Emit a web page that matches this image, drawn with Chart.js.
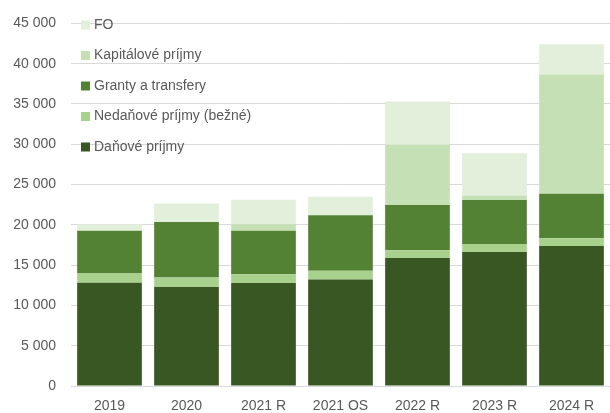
<!DOCTYPE html>
<html>
<head>
<meta charset="utf-8">
<script src="https://cdn.jsdelivr.net/npm/chart.js@4"></script>
<style>
  html, body { margin: 0; padding: 0; background: #fff; }
  #wrap { width: 610px; height: 413px; }
</style>
</head>
<body>
<div id="wrap"><canvas id="chart" width="610" height="413"></canvas></div>
<script>
// Dáta
const categories = ["2019", "2020", "2021 R", "2021 OS", "2022 R", "2023 R", "2024 R"];
const danove     = [12800, 12300, 12770, 13230, 15890, 16630, 17370];
const nedanove   = [1160, 1150, 1110, 1060, 950, 980, 980];
const granty     = [5300, 6900, 5380, 6900, 5620, 5470, 5500];
const kapitalove = [0, 0, 810, 0, 7470, 560, 14820];
const fo         = [810, 2300, 3045, 2300, 5385, 5255, 3740];

const FONT = "'Liberation Sans', Arial, sans-serif";
const TEXT = "#595959";

const fmt = v => String(v).replace(/\B(?=(\d{3})+(?!\d))/g, " ");

// legenda vo vnútri grafu, vľavo hore
const insideLegend = {
  id: "insideLegend",
  afterDraw(chart) {
    const ctx = chart.ctx;
    const items = chart.data.datasets.slice().reverse();
    ctx.save();
    ctx.font = "14px " + FONT;
    ctx.textBaseline = "middle";
    items.forEach((ds, i) => {
      const y = 25 + i * 30.5;
      ctx.fillStyle = ds.backgroundColor;
      ctx.fillRect(81, y - 4.5, 9, 9);
      ctx.fillStyle = TEXT;
      ctx.fillText(ds.label, 94, y);
    });
    ctx.restore();
  }
};

new Chart(document.getElementById("chart"), {
  type: "bar",
  data: {
    labels: categories,
    datasets: [
      { label: "Daňové príjmy", data: danove, backgroundColor: "#385723" },
      { label: "Nedaňové príjmy (bežné)", data: nedanove, backgroundColor: "#a9d18e" },
      { label: "Granty a transfery", data: granty, backgroundColor: "#548235" },
      { label: "Kapitálové príjmy", data: kapitalove, backgroundColor: "#c5e0b4" },
      { label: "FO", data: fo, backgroundColor: "#e2efda" }
    ]
  },
  options: {
    responsive: false,
    animation: false,
    layout: { padding: { top: 20, right: 0, bottom: 0, left: 0 } },
    datasets: { bar: { categoryPercentage: 1, barPercentage: 0.84 } },
    plugins: {
      legend: { display: false },
      tooltip: { enabled: false }
    },
    scales: {
      x: {
        stacked: true,
        grid: { display: false, drawTicks: false },
        border: { display: true, color: "#d9d9d9" },
        ticks: { color: TEXT, font: { family: FONT, size: 14 }, padding: 12 },
        afterFit(scale) { scale.height = 27; }
      },
      y: {
        stacked: true,
        min: 0,
        max: 45000,
        grid: { color: "#d9d9d9", drawTicks: false },
        border: { display: false },
        ticks: {
          stepSize: 5000,
          color: TEXT,
          font: { family: FONT, size: 14 },
          padding: 15,
          callback: v => fmt(v)
        },
        afterFit(scale) { scale.width = 71; }
      }
    }
  },
  plugins: [insideLegend]
});
</script>
</body>
</html>
